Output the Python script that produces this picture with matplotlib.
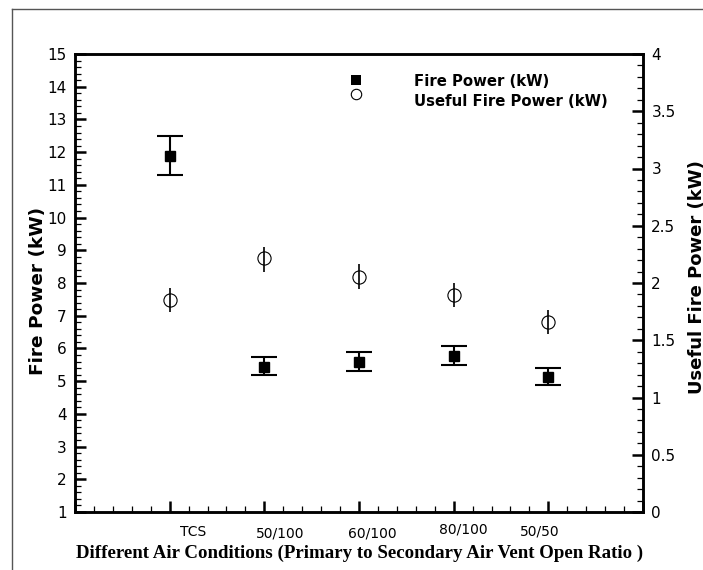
import matplotlib
matplotlib.use("Agg")
import matplotlib.pyplot as plt
import numpy as np
from matplotlib.lines import Line2D
from matplotlib.ticker import MultipleLocator, FuncFormatter

# ---- data ----
categories = ["TCS", "50/100", "60/100", "80/100", "50/50"]
x_pos = [1, 2, 3, 4, 5]
fire_power = [11.88, 5.44, 5.60, 5.77, 5.12]
fire_low = [11.30, 5.19, 5.31, 5.50, 4.87]
fire_high = [12.49, 5.73, 5.89, 6.08, 5.39]
useful_power = [1.852, 2.216, 2.055, 1.895, 1.662]
useful_low = [1.749, 2.099, 1.950, 1.790, 1.552]
useful_high = [1.959, 2.317, 2.170, 1.997, 1.764]

# label layout (hand-placed text positions in the original)
label_x = [1.25, 2.17, 3.14, 4.10, 4.91]
label_dy = [0.0, -1.0, -1.0, 2.3, 1.0]   # pixel nudges

W, H = 703, 570
fig = plt.figure(figsize=(W / 100, H / 100), dpi=100)
ax_l, ax_b, ax_w, ax_h = 75, 58, 568, 458
ax = fig.add_axes([ax_l / W, ax_b / H, ax_w / W, ax_h / H])
ax2 = ax.twinx()

# ---- series ----
fp = np.array(fire_power)
ax.errorbar(x_pos, fp, yerr=[fp - np.array(fire_low), np.array(fire_high) - fp],
            fmt='s', color='black', ms=7.5, elinewidth=1.5,
            capsize=9.7, capthick=1.5, zorder=3)
up = np.array(useful_power)
ax2.errorbar(x_pos, up, yerr=[up - np.array(useful_low), np.array(useful_high) - up],
             fmt='o', color='black', mfc='none', mec='black', ms=9.5, mew=0.8,
             elinewidth=1.2, capsize=0, zorder=3)

# ---- axes ----
ax.set_xlim(0, 6)
ax.set_ylim(1, 15)
ax2.set_ylim(0, 4)
ax.xaxis.set_major_locator(MultipleLocator(1))
ax.xaxis.set_minor_locator(MultipleLocator(0.2))
ax.yaxis.set_major_locator(MultipleLocator(1))
ax.yaxis.set_minor_locator(MultipleLocator(0.2))
ax2.yaxis.set_major_locator(MultipleLocator(0.5))
ax2.yaxis.set_minor_locator(MultipleLocator(0.1))
ax2.yaxis.set_major_formatter(FuncFormatter(lambda v, p: f"{v:g}"))

for a in (ax, ax2):
    for s in a.spines.values():
        s.set_linewidth(1.8)
    a.tick_params(which='major', direction='in', length=8, width=1.8, labelsize=11, pad=6)
    a.tick_params(which='minor', direction='in', length=4.3, width=0.9)
ax.tick_params(axis='x', which='both', top=False, labelbottom=False)
ax.tick_params(axis='y', which='both', right=False)
ax2.tick_params(axis='y', which='both', left=False)

# category labels
for xv, lab, dy in zip(label_x, categories, label_dy):
    ax.annotate(lab, xy=(xv, 0), xycoords=ax.get_xaxis_transform(),
                xytext=(0, -14.5 + dy * 0.72), textcoords='offset points',
                ha='center', va='center', fontsize=10)

# axis titles
fig.text(38 / W, 1 - 291 / H, "Fire Power (kW)", rotation=90, ha='center', va='center',
         fontsize=13.3, fontweight='bold')
fig.text(697 / W, 1 - 277 / H, "Useful Fire Power (kW)", rotation=90, ha='center', va='center',
         fontsize=13, fontweight='bold')
fig.text(360 / W, 1 - 553 / H,
         "Different Air Conditions (Primary to Secondary Air Vent Open Ratio )",
         ha='center', va='center', fontsize=13.6, fontweight='bold',
         family='Liberation Serif')

# legend (manual, as in original)
ax.plot([0.494], [0.9426], 's', color='black', ms=6.5, mew=0, transform=ax.transAxes, clip_on=False)
ax.plot([0.494], [0.9135], 'o', mfc='none', mec='black', ms=7.5, mew=0.8,
        transform=ax.transAxes, clip_on=False)
ax.text(0.597, 0.930, "Fire Power (kW)", transform=ax.transAxes, ha='left', va='baseline',
        fontsize=10.7, fontweight='bold')
ax.text(0.597, 0.8865, "Useful Fire Power (kW)", transform=ax.transAxes, ha='left',
        va='baseline', fontsize=10.7, fontweight='bold')

# outer frame lines (top and left)
fig.add_artist(Line2D([12 / W, 1], [1 - 9 / H, 1 - 9 / H], color='#555555', lw=1.0))
fig.add_artist(Line2D([12 / W, 12 / W], [0, 1 - 9 / H], color='#555555', lw=1.0))

fig.savefig("out.png", dpi=100)
